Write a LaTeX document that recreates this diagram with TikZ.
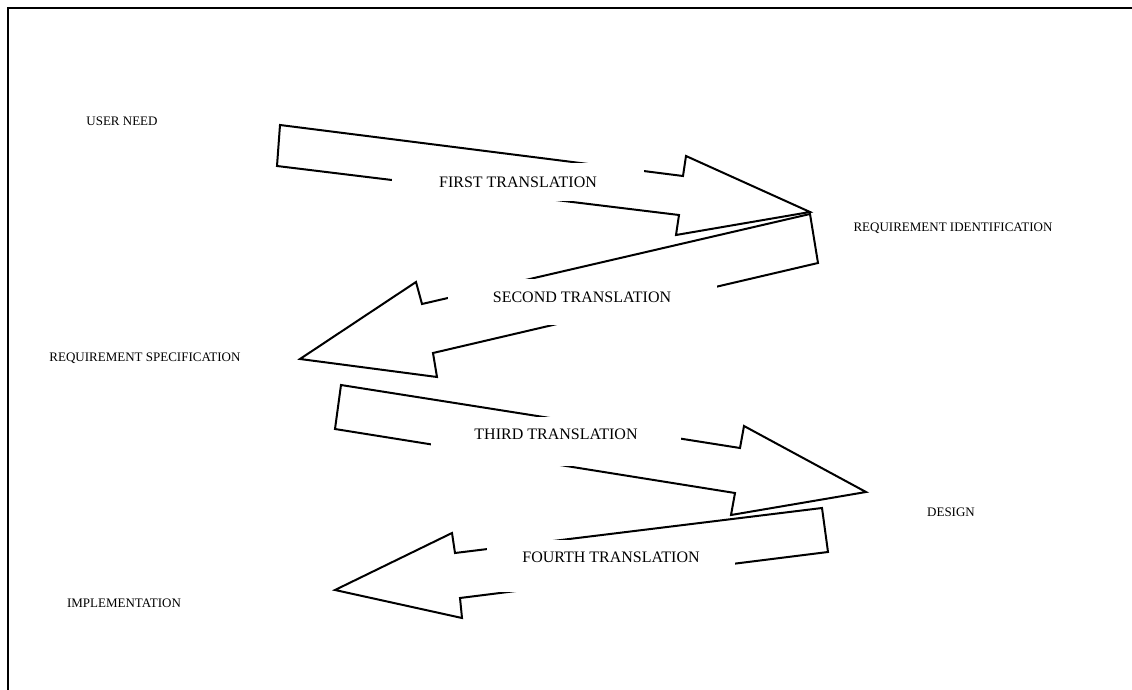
\documentclass[tikz,border=0pt]{standalone}
\usepackage{fontspec}
\setmainfont{Liberation Serif}
\begin{document}
\begin{tikzpicture}[x=1pt,y=-1pt]

%styles
\tikzstyle{stage} = [inner sep=0pt, font=\fontsize{13}{15}\selectfont]
\tikzstyle{translation} = [fill=white, inner sep=0pt, font=\fontsize{16}{18}\selectfont]
\tikzstyle{bigarrow} = [draw=black, line width=2pt, line join=miter]

\useasboundingbox (0,0) rectangle (1132,690);

%frame
\draw[line width=2.4pt] (1132,8) -- (8,8) -- (8,690);

%arrows
\draw[bigarrow] (280,125) -- (683,176) -- (686,156) -- (810,212) -- (676,235) -- (679,215) -- (277,166) -- cycle;
\draw[bigarrow] (810,214) -- (818,263) -- (433,353) -- (437,377) -- (300,359) -- (416,282) -- (422,304) -- cycle;
\draw[bigarrow] (341,385) -- (740,448) -- (744,426) -- (866,492) -- (731,515) -- (735,493) -- (335,429) -- cycle;
\draw[bigarrow] (822,508) -- (828,552) -- (460,598) -- (462,618) -- (335,590) -- (452,533) -- (455,553) -- cycle;

%stages
\node (userneed) [stage] at (122,121) {USER NEED};
\node (reqid)    [stage] at (953,228) {REQUIREMENT IDENTIFICATION};
\node (reqspec)  [stage] at (145,358) {REQUIREMENT SPECIFICATION};
\node (design)   [stage] at (951,512) {DESIGN};
\node (impl)     [stage] at (124,603) {IMPLEMENTATION};

%translations
\node (first)  [translation, minimum width=252pt, minimum height=38pt]                 at (518,182) {FIRST TRANSLATION};
\node (second) [translation, minimum width=269pt, minimum height=46pt, text depth=10pt] at (582,302) {SECOND TRANSLATION};
\node (third)  [translation, minimum width=250pt, minimum height=49pt, text depth=13pt] at (556,441) {THIRD TRANSLATION};
\node (fourth) [translation, minimum width=248pt, minimum height=52pt, text depth=18pt] at (611,566) {FOURTH TRANSLATION};

\end{tikzpicture}
\end{document}
